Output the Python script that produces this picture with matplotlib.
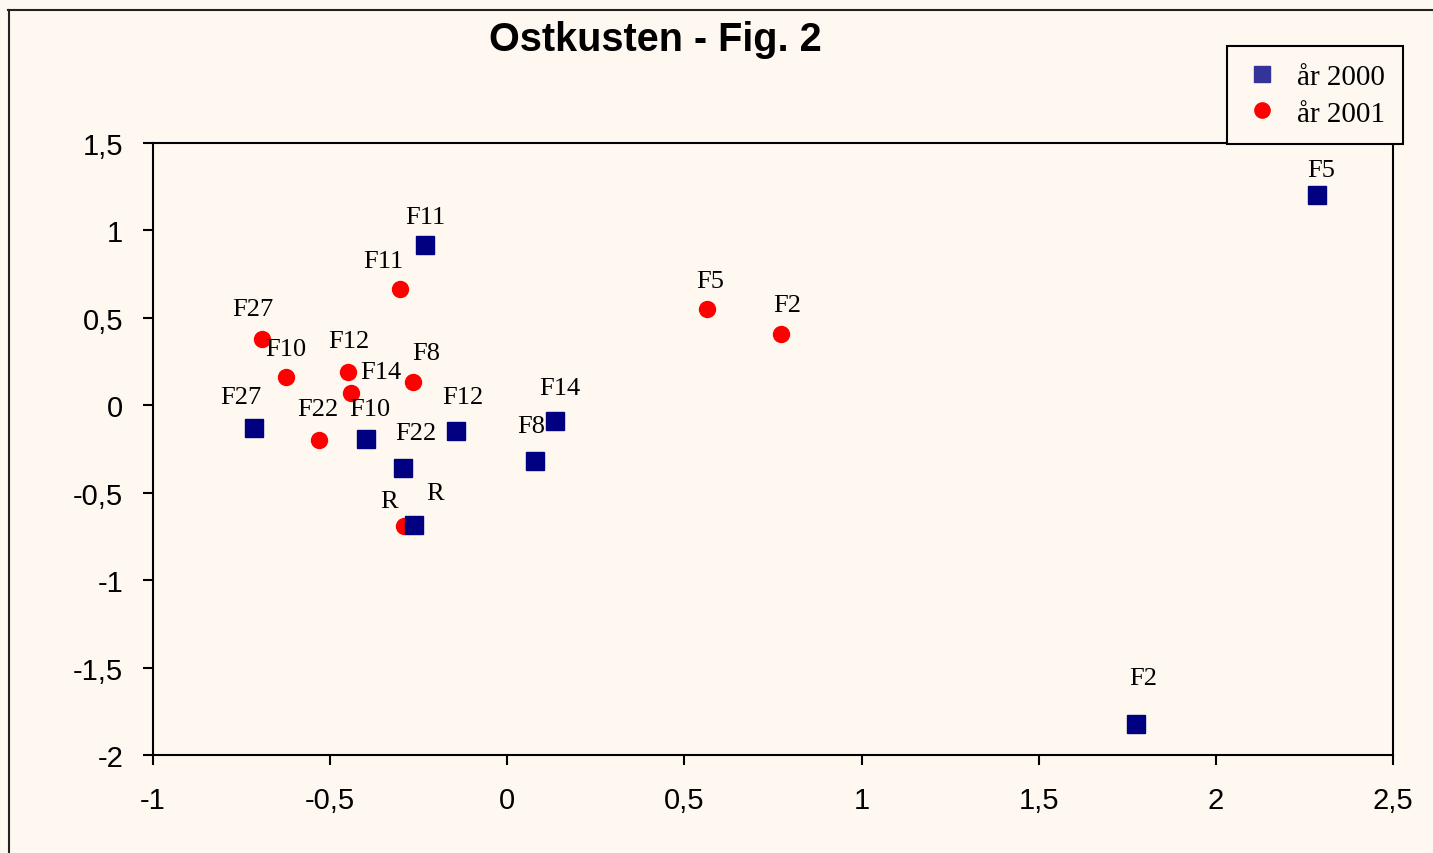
import matplotlib.pyplot as plt
from matplotlib.lines import Line2D
from matplotlib.ticker import FuncFormatter

# station names, same order for both years
names = ['F11', 'F27', 'F10', 'F22', 'F12', 'F14', 'F8', 'R', 'F5', 'F2']

x_2000 = [-0.232, -0.715, -0.399, -0.295, -0.145, 0.135, 0.078, -0.264, 2.285, 1.774]
y_2000 = [0.916, -0.130, -0.192, -0.357, -0.147, -0.090, -0.319, -0.684, 1.203, -1.822]

x_2001 = [-0.303, -0.692, -0.624, -0.532, -0.450, -0.441, -0.266, -0.292, 0.564, 0.773]
y_2001 = [0.665, 0.379, 0.162, -0.198, 0.190, 0.070, 0.133, -0.690, 0.550, 0.408]

# label offsets in pixels (hand placed in the original)
off_2000 = [(0, 28), (-13, 31), (4, 30), (13, 35), (7, 34), (5, 33), (-4, 35), (21, 32), (4, 25), (7, 46)]
off_2001 = [(-17, 28), (-9, 30), (0, 28), (-1, 31), (1, 31), (30, 21), (13, 29), (-15, 25), (3, 28), (6, 29)]

bg = '#fff8f1'
navy = '#000080'
red = '#ff0000'

fig = plt.figure(figsize=(14.33, 8.54), dpi=100, facecolor=bg)
ax = fig.add_axes([153 / 1433, 1 - 756 / 854, 1240 / 1433, 612 / 854])
ax.set_facecolor(bg)

# 2000 squares sit on top of the 2001 dots (see R)
ax.plot(x_2001, y_2001, 'o', color=red, ms=11.5, mec=red, zorder=3)
ax.plot(x_2000, y_2000, 's', color=navy, ms=12.5, mec=navy, zorder=3.5)

for xs, ys, offs in [(x_2000, y_2000, off_2000), (x_2001, y_2001, off_2001)]:
    for n, xv, yv, (dx, dy) in zip(names, xs, ys, offs):
        ax.annotate(n, (xv, yv), xytext=(dx, dy), textcoords='offset pixels',
                    ha='center', va='center', fontsize=19, family='Liberation Serif',
                    zorder=4)

ax.set_xlim(-1, 2.5)
ax.set_ylim(-2, 1.5)
ax.set_xticks([-1, -0.5, 0, 0.5, 1, 1.5, 2, 2.5])
ax.set_yticks([-2, -1.5, -1, -0.5, 0, 0.5, 1, 1.5])
comma = FuncFormatter(lambda v, p: ('%g' % v).replace('.', ','))
ax.xaxis.set_major_formatter(comma)
ax.yaxis.set_major_formatter(comma)

for s in ax.spines.values():
    s.set_linewidth(1.5)
ax.tick_params(direction='out', length=7.5, width=1.5, labelsize=21)
ax.tick_params(axis='x', pad=15)
ax.tick_params(axis='y', pad=14)
for lab in ax.get_xticklabels() + ax.get_yticklabels():
    lab.set_family('Liberation Sans')

fig.text(655 / 1433, 1 - 40 / 854, 'Ostkusten - Fig. 2', ha='center', va='center',
         fontsize=28.5, fontweight='bold', family='Liberation Sans')

# outer chart border (only left and top edges fall inside the picture)
fig.add_artist(Line2D([8.5 / 1433, 8.5 / 1433], [0, 1 - 10.5 / 854], color='#222222',
                      lw=1.5, transform=fig.transFigure))
fig.add_artist(Line2D([8 / 1433, 1], [1 - 10.5 / 854, 1 - 10.5 / 854], color='#222222',
                      lw=1.5, transform=fig.transFigure))

handles = [Line2D([], [], ls='none', marker='s', ms=12, color='#333399'),
           Line2D([], [], ls='none', marker='o', ms=11, color=red)]
leg = fig.legend(handles, ['år 2000', 'år 2001'], loc='upper left',
                 bbox_to_anchor=(1227 / 1433, 1 - 47 / 854), frameon=True,
                 fancybox=False, edgecolor='black', facecolor=bg, framealpha=1,
                 prop={'family': 'Liberation Serif', 'size': 21},
                 handlelength=1.2, handletextpad=0.6, labelspacing=0.35,
                 borderpad=0.6, borderaxespad=0)
leg.get_frame().set_linewidth(1.5)

fig.savefig('out.png', dpi=100, facecolor=bg)
